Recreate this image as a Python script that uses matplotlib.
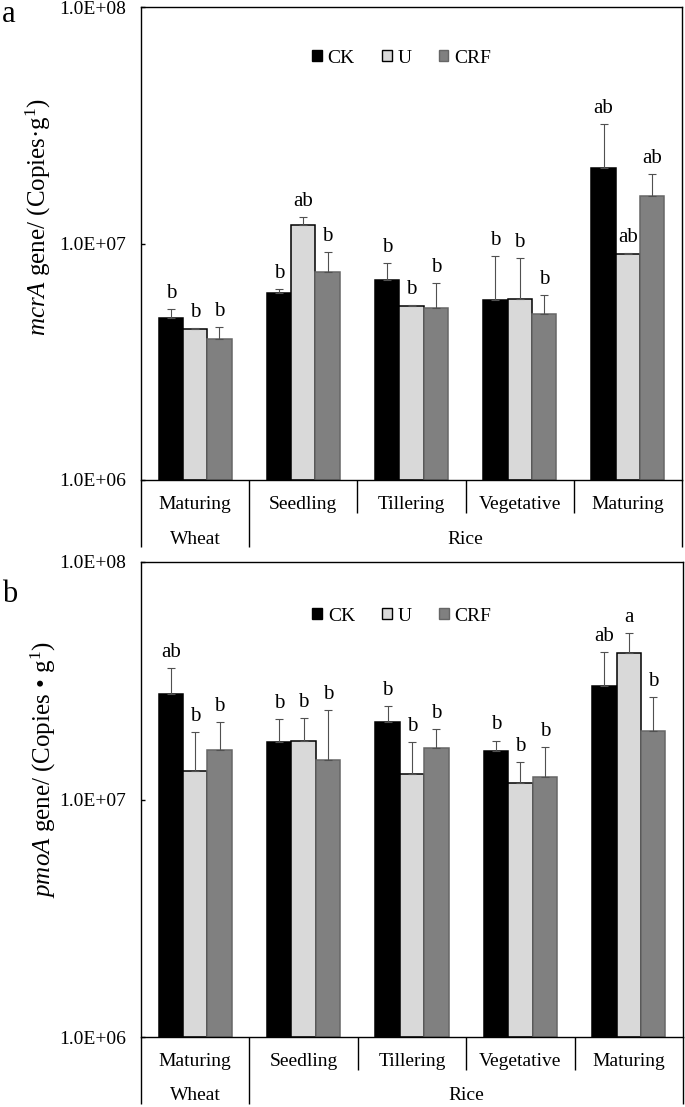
import numpy as np
import matplotlib
matplotlib.use("Agg")
import matplotlib.pyplot as plt
import matplotlib.transforms as mtransforms
from matplotlib.patches import Patch
from matplotlib.ticker import FuncFormatter, NullLocator, FixedLocator

plt.rcParams['font.family'] = ['Liberation Serif', 'DejaVu Serif']
plt.rcParams['mathtext.fontset'] = 'custom'
plt.rcParams['mathtext.rm'] = 'Liberation Serif'
plt.rcParams['mathtext.it'] = 'Liberation Serif:italic'

# ---------------- data ----------------
stages = ["Maturing", "Seedling", "Tillering", "Vegetative", "Maturing"]
crops = ["Wheat", "Rice"]
crop_spans = [(0, 0), (1, 4)]
treatments = ["CK", "U", "CRF"]

mcra_ck = [4.83e6, 6.19e6, 7.01e6, 5.77e6, 2.08e7]
mcra_ck_err = [0.45e6, 0.24e6, 1.29e6, 3.11e6, 1.12e7]
mcra_u = [4.34e6, 1.197e7, 5.44e6, 5.82e6, 9.0e6]
mcra_u_err = [0.06e6, 0.93e6, 0.07e6, 2.84e6, 0.10e6]
mcra_crf = [3.95e6, 7.6e6, 5.32e6, 5.01e6, 1.59e7]
mcra_crf_err = [0.47e6, 1.58e6, 1.47e6, 1.05e6, 0.37e7]
mcra_ck_let = ["b", "b", "b", "b", "ab"]
mcra_u_let = ["b", "ab", "b", "b", "ab"]
mcra_crf_let = ["b", "b", "b", "b", "ab"]

pmoa_ck = [2.78e7, 1.75e7, 2.11e7, 1.60e7, 3.0e7]
pmoa_ck_err = [0.79e7, 0.43e7, 0.37e7, 0.17e7, 1.19e7]
pmoa_u = [1.32e7, 1.76e7, 1.28e7, 1.17e7, 4.15e7]
pmoa_u_err = [0.61e7, 0.44e7, 0.47e7, 0.27e7, 0.86e7]
pmoa_crf = [1.62e7, 1.47e7, 1.64e7, 1.24e7, 1.94e7]
pmoa_crf_err = [0.49e7, 0.90e7, 0.34e7, 0.42e7, 0.77e7]
pmoa_ck_let = ["ab", "b", "b", "b", "ab"]
pmoa_u_let = ["b", "b", "b", "b", "a"]
pmoa_crf_let = ["b", "b", "b", "b", "b"]

yticks = [1e6, 1e7, 1e8]

# ---------------- style ----------------
W, H = 685, 1107
DPI = 100
fill_colors = ["#000000", "#d9d9d9", "#808080"]
edge_colors = ["#000000", "#000000", "#666666"]
BAR_W = 0.225
BASE = 1e6

fig = plt.figure(figsize=(W / DPI, H / DPI), dpi=DPI)


def px_ax(ax, px):
    """convert a pixel distance to axes-fraction (vertical)"""
    return px / (ax.get_position().height * H)


def panel(rect, series, errs, letters, ylabel, ylabel_xy, letter_txt, letter_xy,
          legend_y):
    ax = fig.add_axes(rect)
    x = np.arange(len(stages))
    offsets = [-BAR_W, 0.0, BAR_W]
    for k in range(3):
        vals = np.array(series[k])
        err = np.array(errs[k])
        ax.bar(x + offsets[k], vals - BASE, bottom=BASE, width=BAR_W,
               color=fill_colors[k], edgecolor=edge_colors[k], linewidth=1.1,
               zorder=2)
        ax.errorbar(x + offsets[k], vals, yerr=[np.zeros_like(err), err],
                    fmt='none', ecolor='#505050', elinewidth=0.8, capsize=3,
                    capthick=0.8, zorder=3)
        for xi, v, e, t in zip(x + offsets[k], vals, err, letters[k]):
            ax.annotate(t, (xi, v + e), xytext=(0, 8), textcoords='offset points',
                        ha='center', va='baseline', fontsize=15)
    ax.set_yscale('log')
    ax.set_ylim(yticks[0], yticks[-1])
    ax.set_xlim(-0.5, len(stages) - 0.5)
    ax.yaxis.set_major_locator(FixedLocator(yticks))
    ax.yaxis.set_minor_locator(NullLocator())
    ax.yaxis.set_major_formatter(FuncFormatter(lambda v, p: f"{v:.1E}"))
    ax.set_xticks([])
    ax.tick_params(axis='y', direction='in', length=3, width=1, pad=11,
                   labelsize=14)
    for s in ax.spines.values():
        s.set_linewidth(1.0)

    trans = mtransforms.blended_transform_factory(ax.transData, ax.transAxes)
    row1 = -px_ax(ax, 33)
    row2 = -px_ax(ax, 67)
    # stage labels
    for xi, s in zip(x, stages):
        ax.text(xi, -px_ax(ax, 29), s, transform=trans, ha='center',
                va='baseline', fontsize=14)
    # crop labels
    for name, (a, b) in zip(crops, crop_spans):
        ax.text((a + b) / 2, -px_ax(ax, 63.5), name, transform=trans,
                ha='center', va='baseline', fontsize=14)
    # separators
    bounds = np.arange(len(stages) + 1) - 0.5
    crop_bounds = [crop_spans[0][0] - 0.5] + [sp[1] + 0.5 for sp in crop_spans]
    for bx in bounds:
        y_end = row2 if bx in crop_bounds else row1
        ax.plot([bx, bx], [0, y_end], transform=trans, color='black',
                lw=1.0, clip_on=False, solid_capstyle='butt')

    handles = [Patch(facecolor=fill_colors[k], edgecolor=edge_colors[k],
                     linewidth=1.0, label=treatments[k]) for k in range(3)]
    ax.legend(handles=handles, loc='center', bbox_to_anchor=(0.4815, legend_y),
              ncol=3, frameon=False, fontsize=14, borderpad=0,
              handlelength=0.5, handleheight=0.5, handletextpad=0.3,
              columnspacing=1.4)

    fig.text(ylabel_xy[0] / W, 1 - ylabel_xy[1] / H, ylabel, rotation=90,
             ha='center', va='center', fontsize=18)
    fig.text(letter_xy[0] / W, 1 - letter_xy[1] / H, letter_txt,
             ha='left', va='baseline', fontsize=22)
    return ax


panel([141 / W, 1 - 480 / H, 541 / W, 473 / H],
      [mcra_ck, mcra_u, mcra_crf], [mcra_ck_err, mcra_u_err, mcra_crf_err],
      [mcra_ck_let, mcra_u_let, mcra_crf_let],
      r"$\mathit{mcrA}$ gene/ (Copies·g$^{1}$)", (38, 217), "a", (2, 22), 0.892)

panel([141 / W, 1 - 1037 / H, 542 / W, 475 / H],
      [pmoa_ck, pmoa_u, pmoa_crf], [pmoa_ck_err, pmoa_u_err, pmoa_crf_err],
      [pmoa_ck_let, pmoa_u_let, pmoa_crf_let],
      r"$\mathit{pmoA}$ gene/ (Copies • g$^{1}$)", (43, 770), "b", (2, 602), 0.886)

fig.savefig("out.png", dpi=DPI)
